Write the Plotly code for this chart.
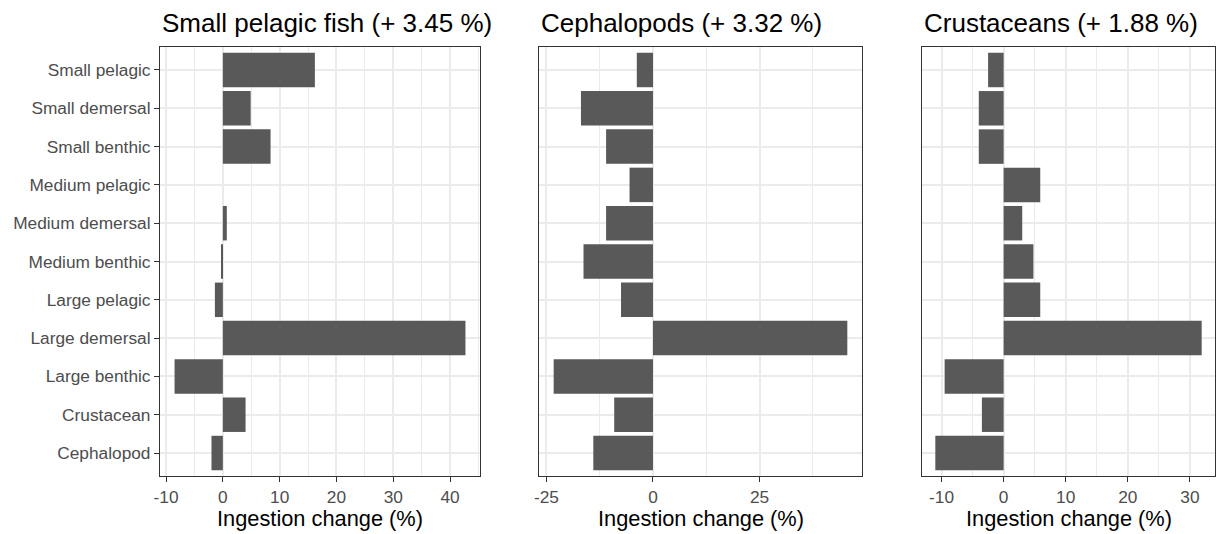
import plotly.graph_objects as go

# Prey groups, top to bottom
categories = [
    "Small pelagic", "Small demersal", "Small benthic",
    "Medium pelagic", "Medium demersal", "Medium benthic",
    "Large pelagic", "Large demersal", "Large benthic",
    "Crustacean", "Cephalopod",
]

# Ingestion change (%) per predator group
small_pelagic_fish = [16.2, 4.9, 8.4, 0.0, 0.7, -0.2, -1.4, 42.7, -8.5, 4.0, -2.0]
cephalopods = [-3.8, -16.9, -11.0, -5.5, -11.0, -16.3, -7.5, 45.6, -23.3, -9.1, -14.0]
crustaceans = [-2.5, -4.0, -4.0, 5.9, 3.0, 4.8, 5.9, 31.9, -9.5, -3.5, -11.0]

panel_titles = [
    "Small pelagic fish (+ 3.45 %)",
    "Cephalopods (+ 3.32 %)",
    "Crustaceans (+ 1.88 %)",
]
x_title = "Ingestion change (%)"

# Tick positions / labels per panel
ticks_1 = [-10, 0, 10, 20, 30, 40]
ticks_2 = [-25, 0, 25]
ticks_3 = [-10, 0, 10, 20, 30]
minor_step = [5, 12.5, 5]

W, H = 1219, 534
FONT = "Liberation Sans, Arial, sans-serif"
BAR = "#595959"
GRID = "#EBEBEB"
BORDER = "#333333"

# panel extents in pixels (left, right), shared top/bottom
panels_px = [(160, 480), (539, 862), (922, 1215)]
top_px, bottom_px = 47, 476

series = [small_pelagic_fish, cephalopods, crustaceans]
tick_sets = [ticks_1, ticks_2, ticks_3]

fig = go.Figure()
n = len(categories)

for i, (vals, ticks) in enumerate(zip(series, tick_sets)):
    k = "" if i == 0 else str(i + 1)
    fig.add_trace(go.Bar(
        x=vals, y=categories, orientation="h",
        marker=dict(color=BAR, line=dict(width=0)),
        width=0.9, xaxis="x" + k, yaxis="y" + k, showlegend=False,
        hoverinfo="x+y",
    ))
    lo = min(min(vals), 0)
    hi = max(max(vals), 0)
    pad = 0.05 * (hi - lo)
    l, r = panels_px[i]
    xa = dict(
        domain=[l / W, r / W],
        range=[lo - pad, hi + pad],
        tickmode="array", tickvals=ticks,
        ticktext=[str(t) for t in ticks],
        ticks="outside", ticklen=5, tickwidth=1.1, tickcolor=BORDER,
        tickfont=dict(family=FONT, size=17.3, color="#4D4D4D"),
        showgrid=True, gridcolor=GRID, gridwidth=1.5,
        minor=dict(tick0=0, dtick=minor_step[i], showgrid=True,
                   gridcolor=GRID, gridwidth=1.0),
        showline=True, linecolor=BORDER, linewidth=1.1, mirror=True,
        zeroline=False, anchor="y" + k, fixedrange=True, automargin=False,
    )
    ya = dict(
        domain=[1 - bottom_px / H, 1 - top_px / H],
        type="category", categoryorder="array", categoryarray=categories,
        range=[n - 0.4, -0.6],
        showgrid=True, gridcolor=GRID, gridwidth=1.5,
        showline=True, linecolor=BORDER, linewidth=1.1, mirror=True,
        zeroline=False, anchor="x" + k, fixedrange=True, automargin=False,
    )
    if i == 0:
        ya.update(ticks="outside", ticklen=5, tickwidth=1.1, tickcolor=BORDER,
                  tickfont=dict(family=FONT, size=17.3, color="#4D4D4D"),
                  showticklabels=True)
    else:
        ya.update(ticks="", showticklabels=False)
    fig.layout["xaxis" + k] = xa
    fig.layout["yaxis" + k] = ya

    # panel title, left aligned with the panel
    fig.add_annotation(
        x=l / W, y=1 - 23 / H, xref="paper", yref="paper",
        text=panel_titles[i], showarrow=False, xanchor="left", yanchor="middle",
        font=dict(family=FONT, size=26, color="black"),
    )
    # x axis title, centred under the panel
    fig.add_annotation(
        x=(l + r) / 2 / W, y=1 - 518 / H, xref="paper", yref="paper",
        text=x_title, showarrow=False, xanchor="center", yanchor="middle",
        font=dict(family=FONT, size=21.8, color="black"),
    )

fig.update_layout(
    width=W, height=H,
    margin=dict(l=0, r=0, t=0, b=0, autoexpand=False),
    paper_bgcolor="white", plot_bgcolor="white",
    bargap=0.1,
    font=dict(family=FONT),
)

fig.write_html("out.html")
